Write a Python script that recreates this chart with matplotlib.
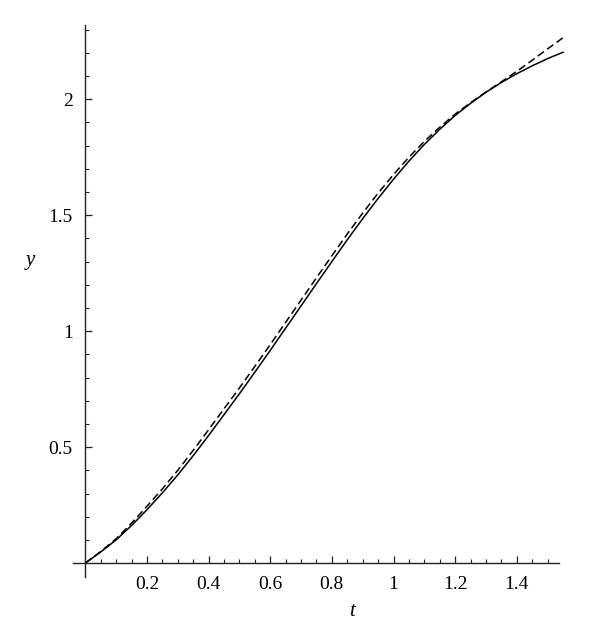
import matplotlib
matplotlib.use("Agg")
import matplotlib.pyplot as plt
import numpy as np

# values
t_vals = [0.0, 0.05, 0.1, 0.15, 0.2, 0.25, 0.3, 0.35, 0.4, 0.45, 0.5, 0.55,
          0.6, 0.65, 0.7, 0.75, 0.8, 0.85, 0.9, 0.95, 1.0, 1.05, 1.1, 1.15,
          1.2, 1.25, 1.3, 1.35, 1.4, 1.45, 1.5, 1.55]
y_solid = [0.0, 0.048, 0.10, 0.162, 0.23, 0.303, 0.38, 0.463, 0.55, 0.64,
           0.73, 0.823, 0.917, 1.013, 1.109, 1.205, 1.30, 1.394, 1.485, 1.572,
           1.655, 1.733, 1.805, 1.87, 1.93, 1.982, 2.03, 2.072, 2.11, 2.144,
           2.175, 2.2025]
y_dashed = [0.0, 0.05, 0.105, 0.172, 0.245, 0.32, 0.40, 0.486, 0.575, 0.665,
            0.755, 0.848, 0.942, 1.038, 1.134, 1.23, 1.325, 1.419, 1.509,
            1.595, 1.675, 1.75, 1.818, 1.879, 1.936, 1.985, 2.031, 2.075,
            2.12, 2.168, 2.217, 2.265]

x_ticks = [0.2, 0.4, 0.6, 0.8, 1.0, 1.2, 1.4]
x_labels = ["0.2", "0.4", "0.6", "0.8", "1", "1.2", "1.4"]
y_ticks = [0.5, 1.0, 1.5, 2.0]
y_labels = ["0.5", "1", "1.5", "2"]

plt.rcParams['font.family'] = ['Liberation Serif', 'DejaVu Serif']

W, H = 600, 640
fig = plt.figure(figsize=(W / 100, H / 100), dpi=100)
ax = fig.add_axes([73 / W, (H - 577) / H, (559 - 73) / W, (577 - 25) / H])

ax.plot(t_vals, y_solid, color='black', lw=1.1, clip_on=False)
ax.plot(t_vals, y_dashed, color='black', lw=1.1, dashes=(5, 2.6), clip_on=False)

ax.set_xlim(-0.04, 1.537)
ax.set_ylim(-0.06, 2.32)

for s in ['top', 'right']:
    ax.spines[s].set_visible(False)
ax.spines['left'].set_position(('data', 0))
ax.spines['bottom'].set_position(('data', 0))
for s in ['left', 'bottom']:
    ax.spines[s].set_linewidth(1.0)
    ax.spines[s].set_color('#222222')

ax.set_xticks(x_ticks)
ax.set_xticklabels(x_labels)
ax.set_yticks(y_ticks)
ax.set_yticklabels(y_labels)
ax.set_xticks(np.arange(0.05, 1.52, 0.05), minor=True)
ax.set_yticks(np.arange(0.1, 2.31, 0.1), minor=True)

ax.tick_params(which='major', direction='in', length=5, width=0.9,
               labelsize=14, color='#222222', pad=9)
ax.tick_params(which='minor', direction='in', length=3, width=0.8,
               color='#222222')
ax.tick_params(axis='y', which='major', pad=9)

fig.text(352 / W, 1 - 612 / H, "t", style='italic', fontsize=15,
         ha='center', va='center')
fig.text(30 / W, 1 - 260 / H, "y", style='italic', fontsize=15,
         ha='center', va='center')

fig.savefig("out.png", dpi=100)
